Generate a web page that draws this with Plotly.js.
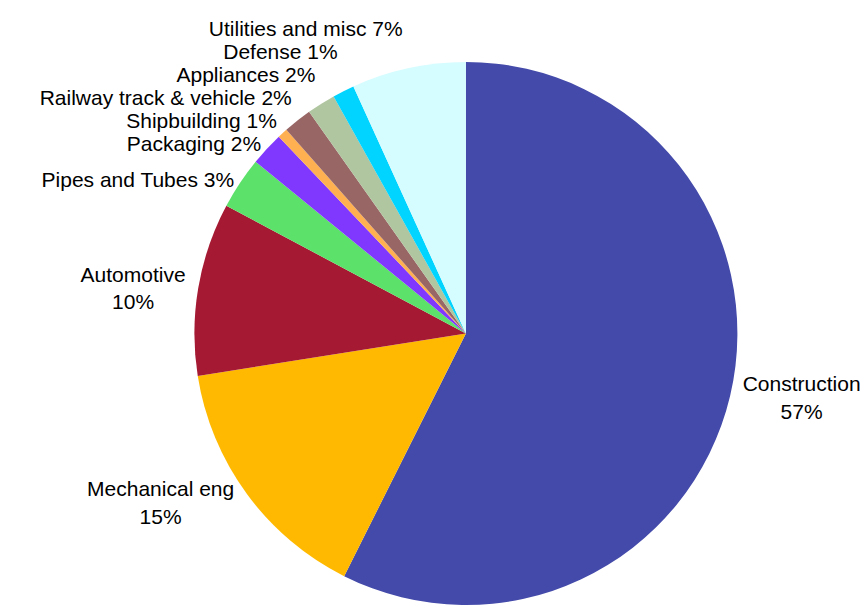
<!DOCTYPE html>
<html>
<head>
<meta charset="utf-8">
<script src="https://cdn.plot.ly/plotly-3.0.1.min.js"></script>
<style>html,body{margin:0;padding:0;background:#fff;}#chart{width:868px;height:605px;}
.textline{display:none;}</style>
</head>
<body>
<div id="chart"></div>
<script>
const categories = ["Construction", "Mechanical eng", "Automotive", "Pipes and Tubes", "Packaging", "Shipbuilding", "Railway track & vehicle", "Appliances", "Defense", "Utilities and misc"];
const shares = [57.4, 15.1, 10.3, 3.1, 2.0, 0.6, 1.7, 1.7, 1.3, 6.8];
const twoLineLabels = ["Construction", "Mechanical eng", "Automotive"];
const sliceColors = ["#434AA9", "#FFB900", "#A51932", "#5CE16B", "#8038FF", "#FFB050", "#996666", "#B0C6A0", "#00D4FF", "#D5FCFF"];

const templates = categories.map(c => twoLineLabels.includes(c) ? "%{label}<br>%{percent:.0%}" : "%{label} %{percent:.0%}");

const trace = {
  type: "pie",
  labels: categories,
  values: shares,
  sort: false,
  direction: "clockwise",
  rotation: 0,
  marker: {colors: sliceColors, line: {width: 0}},
  texttemplate: templates,
  textposition: "outside",
  textfont: {family: "Liberation Sans, Arial, sans-serif", size: 21, color: "#000"},
  outsidetextfont: {family: "Liberation Sans, Arial, sans-serif", size: 21, color: "#000"},
  hoverinfo: "none",
  showlegend: false,
  domain: {x: [0.2235, 0.85], y: [0, 1]}
};

const layout = {
  width: 868, height: 605,
  margin: {l: 0, r: 0, t: 62, b: 0},
  paper_bgcolor: "#fff",
  plot_bgcolor: "#fff",
  showlegend: false
};

Plotly.newPlot("chart", [trace], layout, {displayModeBar: false, staticPlot: true});
</script>
</body>
</html>
